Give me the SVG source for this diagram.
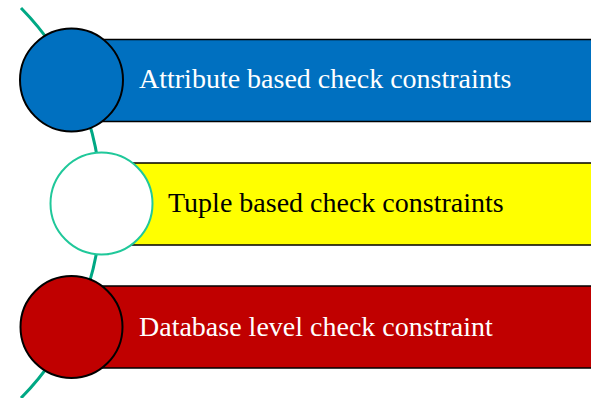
<svg xmlns="http://www.w3.org/2000/svg" width="591" height="398" viewBox="0 0 591 398">
<style>
.bar{stroke:#000;stroke-width:1.5}
.c{stroke:#000;stroke-width:2}
.t{font-family:"Liberation Serif","Times New Roman",serif;font-size:28px}
</style>
<rect width="591" height="398" fill="#fff"/>
<g id="connectors">
<path d="M 21 8 A 277.7 277.7 0 0 1 21 398" fill="none" stroke="#00A884" stroke-width="3"/>
</g>
<g id="node1">
<rect class="bar" x="71.5" y="39.5" width="525" height="82" fill="#0070C0"/>
<circle class="c" cx="71.5" cy="80" r="51.5" fill="#0070C0"/>
<text class="t" x="139" y="88" fill="#fff">Attribute based check constraints</text>
</g>
<g id="node2">
<rect class="bar" x="101.5" y="163" width="495" height="82" fill="#FFFF00"/>
<circle cx="101.5" cy="203.5" r="51" fill="#fff" stroke="#20C89A" stroke-width="2"/>
<text class="t" x="168" y="212" fill="#000">Tuple based check constraints</text>
</g>
<g id="node3">
<rect class="bar" x="71.5" y="286" width="525" height="82" fill="#C00000"/>
<circle class="c" cx="71.5" cy="327" r="51" fill="#C00000"/>
<text class="t" x="139" y="336" fill="#fff">Database level check constraint</text>
</g>
</svg>
